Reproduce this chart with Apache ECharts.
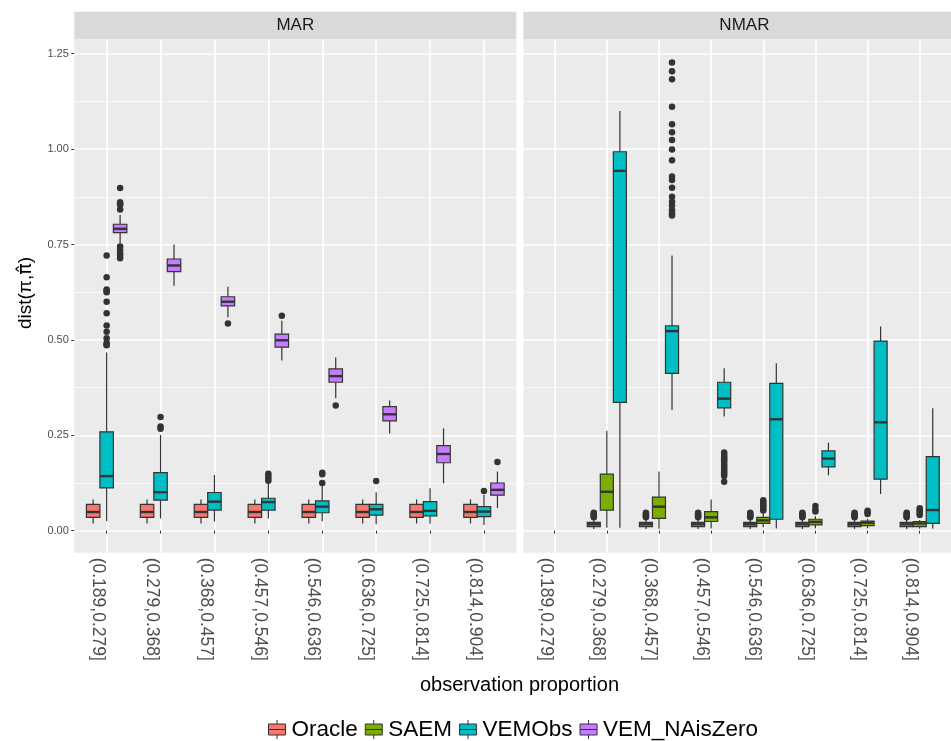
<!DOCTYPE html>
<html><head><meta charset="utf-8">
<script src="https://cdn.jsdelivr.net/npm/echarts@6/dist/echarts.min.js"></script>
<style>html,body{margin:0;padding:0;background:#fff}#chart{width:951px;height:741px}</style>
</head><body><div id="chart"></div>
<script>
// ---------------- data ----------------
const categories = ['(0.189,0.279]','(0.279,0.368]','(0.368,0.457]','(0.457,0.546]','(0.546,0.636]','(0.636,0.725]','(0.725,0.814]','(0.814,0.904]'];
const panels = ['MAR','NMAR'];
const groups = ['Oracle','SAEM','VEMObs','VEM_NAisZero'];
const yTicks = [0, 0.25, 0.5, 0.75, 1.0, 1.25];
const yMinorTicks = [0.125, 0.375, 0.625, 0.875, 1.125];
const xTitle = 'observation proportion';
const yTitleParts = ['dist(\u03C0,', '\u03C0\u0302', ')'];

// box stats per category: [lower whisker, q1, median, q3, upper whisker]; null = no data
const marOracle = [
  [0.019,0.035,0.049,0.069,0.082],[0.019,0.035,0.049,0.069,0.082],[0.019,0.035,0.049,0.069,0.082],[0.019,0.035,0.049,0.069,0.082],
  [0.019,0.035,0.049,0.069,0.082],[0.019,0.035,0.049,0.069,0.082],[0.019,0.035,0.049,0.069,0.082],[0.019,0.035,0.049,0.069,0.082]];
const marVEMObs = [
  [0.025,0.112,0.143,0.259,0.467],[0.032,0.080,0.101,0.152,0.251],[0.024,0.054,0.076,0.100,0.146],[0.032,0.054,0.075,0.085,0.126],
  [0.025,0.047,0.063,0.078,0.120],[0.017,0.041,0.056,0.069,0.101],[0.018,0.039,0.052,0.076,0.111],[0.015,0.037,0.050,0.063,0.094]];
const marVEMNAisZero = [
  [0.753,0.781,0.791,0.803,0.827],[0.642,0.679,0.695,0.712,0.750],[0.559,0.589,0.600,0.613,0.639],[0.446,0.481,0.499,0.515,0.550],
  [0.347,0.389,0.405,0.424,0.454],[0.255,0.288,0.305,0.325,0.341],[0.124,0.178,0.201,0.223,0.268],[0.059,0.093,0.107,0.125,0.155]];
const nmarOracle = [null,
  [0.0045,0.0105,0.0167,0.022,0.028],[0.0045,0.0105,0.0167,0.022,0.028],[0.0045,0.0105,0.0167,0.022,0.028],[0.0045,0.0105,0.0167,0.022,0.028],
  [0.0045,0.0105,0.0167,0.022,0.028],[0.0045,0.0105,0.0167,0.022,0.028],[0.0045,0.0105,0.0167,0.022,0.028]];
const nmarSAEM = [null,
  [0.008,0.054,0.102,0.148,0.262],[0.005,0.032,0.063,0.088,0.155],[0.006,0.024,0.035,0.050,0.082],[0.009,0.019,0.027,0.035,0.047],
  [0.006,0.015,0.023,0.030,0.038],[0.006,0.013,0.021,0.025,0.031],[0.005,0.0105,0.019,0.024,0.028]];
const nmarVEMObs = [null,
  [0.008,0.336,0.943,0.993,1.100],[0.316,0.412,0.523,0.537,0.721],[0.299,0.322,0.346,0.389,0.426],[0.006,0.030,0.292,0.386,0.439],
  [0.145,0.167,0.189,0.209,0.231],[0.096,0.135,0.284,0.497,0.535],[0.006,0.019,0.054,0.194,0.321]];

// outliers per category
const marOracleOutliers = [[],[],[],[],[],[],[],[]];
const marVEMObsOutliers = [
  [0.721,0.664,0.632,0.628,0.625,0.600,0.570,0.538,0.521,0.504,0.492,0.488,0.486],
  [0.298,0.273,0.267],[],[0.149,0.143,0.137,0.131],[0.152,0.148,0.125],[0.130],[],[0.104]];
const marVEMNAisZeroOutliers = [
  [0.898,0.861,0.857,0.854,0.842,0.745,0.735,0.727,0.721,0.714],
  [],[0.543],[0.563],[0.328],[],[],[0.180]];
const nmarOracleOutliers = [[],
  [0.035,0.038,0.041,0.044,0.047],[0.035,0.038,0.041,0.044,0.047],[0.035,0.038,0.041,0.044,0.047],[0.035,0.038,0.041,0.044,0.047],
  [0.035,0.038,0.041,0.044,0.047],[0.035,0.038,0.041,0.044,0.047],[0.035,0.038,0.041,0.044,0.047]];
const nmarSAEMOutliers = [[],[],[],[],
  [0.080,0.075,0.070,0.066,0.062,0.057,0.053],[0.065,0.055,0.050],[0.052,0.048,0.044],[0.059,0.054,0.050,0.045,0.041]];
const nmarVEMObsOutliers = [[],[],
  [1.227,1.204,1.183,1.111,1.065,1.044,1.024,0.999,0.971,0.928,0.919,0.899,0.875,0.862,0.852,0.840,0.832,0.826],
  [0.205,0.201,0.196,0.192,0.187,0.183,0.178,0.172,0.168,0.163,0.158,0.153,0.148,0.143,0.128],
  [],[],[],[]];

// ---------------- style / layout ----------------
const colors = {Oracle:'#F8766D', SAEM:'#7CAE00', VEMObs:'#00BFC4', VEM_NAisZero:'#C77CFF'};
const FONT = '"Liberation Sans", Arial, Helvetica, sans-serif';
const Y_MIN = -0.0577, Y_MAX = 1.2872;
const X_MIN = 0.4, X_MAX = 8.6;
const BOX_W = 0.25;
const gridBox = [{left:74.3, top:39.5, width:442, height:513.2},{left:523.4, top:39.5, width:442, height:513.2}];
const catValues = categories.map((c,i)=>i+1);

const panelData = [
  [{g:'Oracle', stats:marOracle, out:marOracleOutliers},{g:'VEMObs', stats:marVEMObs, out:marVEMObsOutliers},{g:'VEM_NAisZero', stats:marVEMNAisZero, out:marVEMNAisZeroOutliers}],
  [{g:'Oracle', stats:nmarOracle, out:nmarOracleOutliers},{g:'SAEM', stats:nmarSAEM, out:nmarSAEMOutliers},{g:'VEMObs', stats:nmarVEMObs, out:nmarVEMObsOutliers}]
];

function boxRenderer(offset){
  return function(params, api){
    const x = api.value(0) + offset;
    const lo = api.value(1), q1 = api.value(2), md = api.value(3), q3 = api.value(4), hi = api.value(5);
    const h = BOX_W/2;
    const tl = api.coord([x-h, q3]), br = api.coord([x+h, q1]);
    const pHi = api.coord([x, hi]), pQ3 = api.coord([x, q3]), pQ1 = api.coord([x, q1]), pLo = api.coord([x, lo]);
    const mL = api.coord([x-h, md]), mR = api.coord([x+h, md]);
    const lineStyle = {stroke:'#333333', lineWidth:1.2};
    return {type:'group', children:[
      {type:'line', shape:{x1:pHi[0],y1:pHi[1],x2:pQ3[0],y2:pQ3[1]}, style:lineStyle},
      {type:'line', shape:{x1:pQ1[0],y1:pQ1[1],x2:pLo[0],y2:pLo[1]}, style:lineStyle},
      {type:'rect', shape:{x:tl[0], y:tl[1], width:br[0]-tl[0], height:br[1]-tl[1]}, style:{fill:api.visual('color'), stroke:'#333333', lineWidth:1.2}},
      {type:'line', shape:{x1:mL[0],y1:mL[1],x2:mR[0],y2:mR[1]}, style:{stroke:'#333333', lineWidth:2.4}}
    ]};
  };
}

const series = [];
const outlierSeries = [];
panelData.forEach((list, p) => {
  const n = list.length;
  list.forEach((item, i) => {
    const offset = (i - (n-1)/2) * BOX_W;
    const data = [];
    item.stats.forEach((s, c) => { if (s) data.push([c+1].concat(s)); });
    series.push({
      type:'custom', name:item.g, xAxisIndex:p, yAxisIndex:p*2, z:3,
      itemStyle:{color:colors[item.g]},
      renderItem: boxRenderer(offset),
      encode:{x:0, y:[1,2,3,4,5]},
      data: data
    });
    const pts = [];
    item.out.forEach((arr, c) => arr.forEach(v => pts.push([c+1+offset, v])));
    outlierSeries.push({
      type:'scatter', name:item.g + ' outliers', xAxisIndex:p, yAxisIndex:p*2, z:4,
      symbol:'circle', symbolSize:6.5, itemStyle:{color:'#333333', opacity:1},
      data: pts
    });
  });
});

const xAxes = [0,1].map(p => ({
  gridIndex:p, type:'value', min:X_MIN, max:X_MAX,
  axisLine:{show:false},
  axisTick:{show:true, length:3, lineStyle:{color:'#333333', width:1}, customValues:catValues},
  axisLabel:{customValues:catValues, rotate:-90, fontSize:17.5, color:'#4D4D4D', margin:5, fontFamily:FONT,
             verticalAlign:'top', formatter: v => categories[Math.round(v)-1]},
  splitLine:{show:true, lineStyle:{color:'#FFFFFF', width:1.7}}
}));
const yAxes = [];
[0,1].forEach(p => {
  yAxes.push({
    gridIndex:p, type:'value', min:Y_MIN, max:Y_MAX,
    axisLine:{show:false},
    axisTick:{show:p===0, length:3, lineStyle:{color:'#333333', width:1}, customValues:yTicks},
    axisLabel:{show:p===0, customValues:yTicks, fontSize:11, color:'#4D4D4D', margin:5.5, fontFamily:FONT,
               formatter: v => v.toFixed(2)},
    splitLine:{show:true, lineStyle:{color:'#FFFFFF', width:1.7}}
  });
  yAxes.push({
    gridIndex:p, type:'value', min:Y_MIN, max:Y_MAX,
    axisLine:{show:false}, axisLabel:{show:false},
    axisTick:{show:false, customValues:yMinorTicks},
    splitLine:{show:true, lineStyle:{color:'#FFFFFF', width:0.8}}
  });
});

const graphics = [];
panels.forEach((name, p) => {
  const g = gridBox[p];
  graphics.push({type:'rect', shape:{x:g.left, y:11.7, width:g.width, height:g.top-11.7}, style:{fill:'#D9D9D9'}, z:-1});
  graphics.push({type:'text', x:g.left+g.width/2, y:25.8, style:{text:name, fontSize:17, fill:'#1A1A1A', fontFamily:FONT, textAlign:'center', textVerticalAlign:'middle'}});
});
graphics.push({type:'text', x:519.5, y:685, style:{text:xTitle, fontSize:20, fill:'#000000', fontFamily:FONT, textAlign:'center', textVerticalAlign:'middle'}});
graphics.push({type:'text', x:26, y:293, rotation:Math.PI/2, style:{
  text:'{a|' + yTitleParts[0] + '}{b|' + yTitleParts[1] + '}{a|' + yTitleParts[2] + '}',
  rich:{a:{fontSize:19, fill:'#000000', fontFamily:FONT}, b:{fontSize:19, fill:'#000000', fontFamily:'"DejaVu Sans"'}},
  textAlign:'center', textVerticalAlign:'middle'}});

// legend key backgrounds (ggplot legend keys)
const legendIcon = 'path://M1,4H18V15H1Z M9.5,0V4 M9.5,15V19 M1,9.5H18';

const chart = echarts.init(document.getElementById('chart'), null, {renderer:'canvas'});
chart.setOption({
  animation:false,
  backgroundColor:'#FFFFFF',
  textStyle:{fontFamily:FONT},
  grid: gridBox.map(g => ({left:g.left, top:g.top, width:g.width, height:g.height, show:true, backgroundColor:'#EBEBEB', borderWidth:0, containLabel:false})),
  xAxis: xAxes,
  yAxis: yAxes,
  legend:{
    data: groups.map(n => ({name:n, icon:legendIcon})),
    left:268, top:718, padding:0, itemGap:7, itemWidth:19, itemHeight:19,
    itemStyle:{borderColor:'#333333', borderWidth:1},
    textStyle:{fontSize:22.5, color:'#000000', fontFamily:FONT},
    selectedMode:false
  },
  graphic: graphics,
  series: series.concat(outlierSeries)
});
</script></body></html>
